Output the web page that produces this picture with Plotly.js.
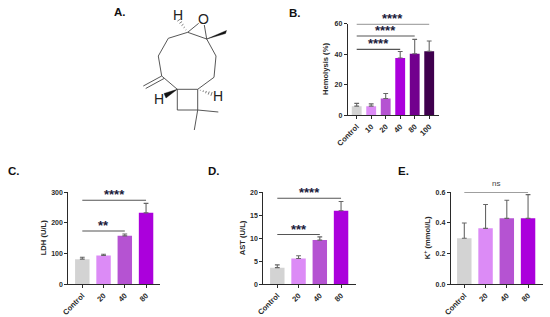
<!DOCTYPE html>
<html><head><meta charset="utf-8">
<script src="https://cdn.plot.ly/plotly-3.0.1.min.js"></script>
<style>html,body{margin:0;padding:0;background:#fff;overflow:hidden}</style></head>
<body><div id="chart" style="width:550px;height:317px"></div>
<script>
// Data
const hemolysisCats = ['Control','10','20','40','80','100'];
const hemolysisVals = [6, 6, 11, 37.5, 40.3, 42];
const hemolysisTops = [7.8, 7.5, 14.3, 41.8, 49.7, 48.7];
const doseCats = ['Control','20','40','80'];
const ldhVals = [82, 94, 158, 233];
const ldhTops = [88, 98, 164, 264];
const astVals = [3.6, 5.6, 9.6, 16];
const astTops = [4.2, 6.2, 10.3, 18];
const kVals = [0.30, 0.365, 0.43, 0.43];
const kTops = [0.40, 0.52, 0.548, 0.585];
const colorsB = ['#d3d3d3','#dc8bf6','#b553d2','#ab00dc','#72008e','#3f004e'];
const colorsDose = ['#d3d3d3','#dc8bf6','#b553d2','#ab00dc'];

const W = 550, H = 317, FONT = 'Liberation Sans, Arial, sans-serif', INK = '#2a2a2a';

const panels = [
  {id:'', cats:hemolysisCats, vals:hemolysisVals, tops:hemolysisTops, colors:colorsB, title:'Hemolysis (%)',
   box:[347.7,439,23.7,115.3], first:356.7, step:14.5, ymax:60, dtick:20, tf:',d', tx:325.5,
   sig:[[0,3,43.2,'****'],[0,4,51.9,'****'],[0,5,59.8,'****']]},
  {id:'2', cats:doseCats, vals:ldhVals, tops:ldhTops, colors:colorsDose, title:'LDH (U/L)',
   box:[68.3,160.3,192.3,284.3], first:82.3, step:21.25, ymax:300, dtick:100, tf:',d', tx:43,
   sig:[[0,2,174,'**'],[0,3,274,'****']]},
  {id:'3', cats:doseCats, vals:astVals, tops:astTops, colors:colorsDose, title:'AST (U/L)',
   box:[263.3,355.7,192.3,284.2], first:277.3, step:21.25, ymax:20, dtick:5, tf:',d', tx:242,
   sig:[[0,2,10.8,'***'],[0,3,18.7,'****']]},
  {id:'4', cats:doseCats, vals:kVals, tops:kTops, colors:colorsDose, title:'K<sup>+</sup> (mmol/L)',
   box:[450.7,542.7,192.3,284.3], first:464.3, step:21.25, ymax:0.6, dtick:0.2, tf:'.1f', tx:427,
   sig:[[0,3,0.6,'ns']]}
];

const traces = [], shapes = [], annotations = [];
const layout = {width:W, height:H, margin:{l:0,r:0,t:0,b:0}, paper_bgcolor:'#fff', plot_bgcolor:'rgba(0,0,0,0)',
  showlegend:false, bargap:0.32, font:{family:FONT,color:INK}};

panels.forEach(p => {
  const [x0,x1,y0,y1] = p.box;
  const xn = 'x'+p.id, yn = 'y'+p.id;
  traces.push({type:'bar', x:p.cats, y:p.vals, xaxis:xn, yaxis:yn, cliponaxis:false,
    marker:{color:p.colors, line:{width:0}},
    error_y:{type:'data', symmetric:false, array:p.tops.map((t,i)=>t-p.vals[i]), arrayminus:p.vals.map(()=>0),
      color:'#666', thickness:1.1, width:2.4}, hoverinfo:'skip'});
  layout['xaxis'+p.id] = {domain:[x0/W,x1/W], anchor:yn, type:'category', categoryorder:'array', categoryarray:p.cats,
    range:[-(p.first-x0)/p.step, (x1-p.first)/p.step], showgrid:false, zeroline:false, showline:true, linecolor:INK, linewidth:1,
    ticks:'outside', ticklen:3, tickwidth:1, tickcolor:INK, tickangle:-45,
    tickfont:{family:FONT,size:7.6,color:INK,weight:'bold'}};
  layout['yaxis'+p.id] = {domain:[1-y1/H,1-y0/H], anchor:xn, range:[0,p.ymax], dtick:p.dtick, tickformat:p.tf,
    showgrid:false, zeroline:false, showline:true, linecolor:INK, linewidth:1,
    ticks:'outside', ticklen:3, tickwidth:1, tickcolor:INK, tickfont:{family:FONT,size:7,color:INK,weight:'bold'}};
  annotations.push({xref:'x5', yref:'y5', x:p.tx, y:(y0+y1)/2, text:'<b>'+p.title+'</b>', textangle:-90, showarrow:false,
    font:{family:FONT,size:7.6,color:INK}});
  p.sig.forEach(s => {
    traces.push({type:'scatter', mode:'lines', x:[p.cats[s[0]],p.cats[s[1]]], y:[s[2],s[2]], xaxis:xn, yaxis:yn, cliponaxis:false,
      line:{color:'#555',width:1.1}, hoverinfo:'skip'});
    const mid = (s[0]+s[1])/2;
    const isNs = s[3]==='ns';
    annotations.push({xref:xn, yref:yn, x:mid, y:s[2], text:isNs?s[3]:'<b>'+s[3]+'</b>', showarrow:false, yanchor:'bottom',
      yshift:isNs?2:-4, font:{family:FONT,size:isNs?8:13,color:isNs?'#444':'#1a1a3a'}});
  });
});

// Hidden pixel-scaled axes for the structure and panel letters
layout.xaxis5 = {domain:[0,1], range:[0,W], visible:false, anchor:'y5', fixedrange:true};
layout.yaxis5 = {domain:[0,1], range:[H,0], visible:false, anchor:'x5', fixedrange:true};
traces.push({type:'scatter', mode:'markers', x:[0], y:[0], xaxis:'x5', yaxis:'y5', marker:{opacity:0}, hoverinfo:'skip'});

// Molecule A
const ringX = [187.7,168.3,158.3,161.7,177.3,197.7,214,216,206.7,187.7];
const ringY = [32.3,38.3,56,76,89.3,89.3,77.3,56,39,32.3];
const bondLines = [
  [[187.7,198.7],[32.3,23.3]], [[206.7,204.3],[39,25]],
  [[161.7,143.3],[76,86]], [[164,145.7],[78.5,88.5]],
  [[177.3,177.3,197.7,197.7],[89.3,110,110,89.3]],
  [[197.7,218.3],[110,112]], [[197.7,194.3],[110,130]]
];
const line = (xs,ys,w) => shapes.push({type:'path', xref:'x5', yref:'y5', line:{color:'#444',width:w||1},
  path:xs.map((x,i)=>(i?'L':'M')+x+','+ys[i]).join(' ')});
line(ringX,ringY,0.9);
bondLines.forEach(b=>line(b[0],b[1],0.9));
const wedge = (a,b,c) => shapes.push({type:'path', xref:'x5', yref:'y5', fillcolor:'#111', line:{color:'#111',width:0.4},
  path:`M${a[0]},${a[1]} L${b[0]},${b[1]} L${c[0]},${c[1]} Z`});
wedge([206.7,39],[226.5,30.5],[225.5,33.5]);
wedge([177.3,89.3],[164,93.5],[166,98]);
const hash = (a,b,n,wd) => { for(let i=1;i<=n;i++){ const t=i/n, mx=a[0]+(b[0]-a[0])*t, my=a[1]+(b[1]-a[1])*t;
  const dx=b[0]-a[0], dy=b[1]-a[1], L=Math.hypot(dx,dy), nx=-dy/L*wd*t, ny=dx/L*wd*t;
  line([mx-nx,mx+nx],[my-ny,my+ny],0.7);} };
hash([187.7,32.3],[179,20],5,2);
hash([197.7,89.3],[211.5,94],5,2);
[['H',177.5,14.5],['H',158.5,99],['H',218,96]].forEach(t=>annotations.push({xref:'x5',yref:'y5',x:t[1],y:t[2],text:t[0],showarrow:false,font:{family:FONT,size:14,color:'#222'}}));
annotations.push({xref:'x5',yref:'y5',x:203.3,y:19,text:'O',showarrow:false,font:{family:FONT,size:14,color:'#222'}});

// Panel letters
[['A.',120,12],['B.',295,12.5],['C.',14,171],['D.',214,171],['E.',403.5,171]].forEach(t=>
  annotations.push({xref:'x5',yref:'y5',x:t[1],y:t[2],text:'<b>'+t[0]+'</b>',showarrow:false,font:{family:FONT,size:11.5,color:'#111'}}));

layout.shapes = shapes; layout.annotations = annotations;
Plotly.newPlot('chart', traces, layout, {displayModeBar:false, staticPlot:true});
</script></body></html>
